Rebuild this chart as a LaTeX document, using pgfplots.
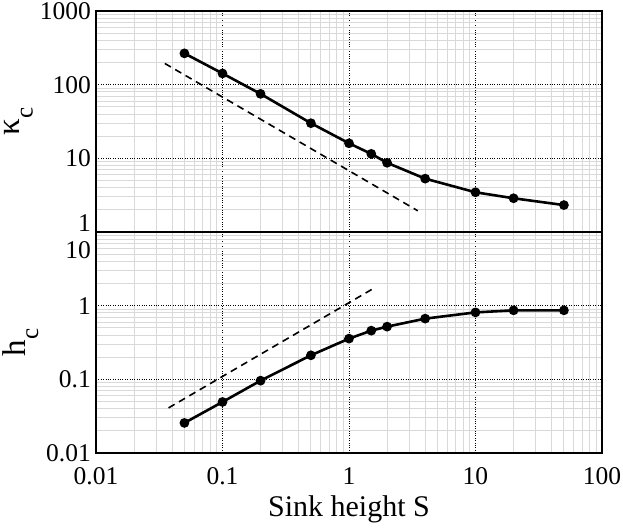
\documentclass[border=0pt]{standalone}
\usepackage{fontspec}
\setmainfont{Liberation Serif}
\usepackage{pgfplots}
\pgfplotsset{compat=1.18}
\begin{document}
\begin{tikzpicture}
\useasboundingbox (-96pt,-74pt) rectangle (527pt,453pt);
\begin{loglogaxis}[at={(0,0)}, anchor=south west,
  scale only axis, width=506pt, height=221pt,
  xmin=0.01, xmax=100,
  xtick={0.01,0.1,1,10,100},
  minor xtick={0.02,0.03,0.04,0.05,0.06,0.07,0.08,0.09,0.2,0.3,0.4,0.5,0.6,0.7,0.8,0.9,2,3,4,5,6,7,8,9,20,30,40,50,60,70,80,90},
  grid=both,
  major grid style={black, line width=0.8pt, dash pattern=on 0.8pt off 1.6pt},
  minor grid style={black!15, line width=0.9pt},
  major tick length=0pt, minor tick length=0pt,
  axis line style={line width=1.2pt},
  tick label style={font=\fontsize{25.5}{25.5}\selectfont},
  yticklabel style={inner sep=0pt, xshift=-5pt},
  ylabel style={font=\fontsize{33}{33}\selectfont, at={(axis description cs:-0.140,0.5)}, anchor=base},
  ymin=0.01, ymax=10,
  ytick={0.01,0.1,1,10},
  yticklabels={\mbox{0.01},\mbox{0.1},\mbox{1},{\raisebox{-18pt}[\height][\depth]{\mbox{10}}}},
  minor ytick={0.02,0.03,0.04,0.05,0.06,0.07,0.08,0.09,0.2,0.3,0.4,0.5,0.6,0.7,0.8,0.9,2,3,4,5,6,7,8,9},
  xticklabels={\mbox{0.01},\mbox{0.1},\mbox{1},\mbox{10},\mbox{100}},
  xticklabel style={inner sep=0pt, yshift=-14pt},
  ylabel={h\raisebox{-13pt}{\fontsize{25}{25}\selectfont c}},
  xlabel={Sink height S},
  xlabel style={font=\fontsize{30}{30}\selectfont, at={(axis description cs:0.5,-0.288)}, anchor=base},
]
\addplot[black, line width=1.6pt, dash pattern=on 7pt off 5pt] coordinates {(0.0375,0.041)(1.54,1.69)};
\addplot[black, line width=2.6pt, mark=*, mark size=3.5pt] coordinates {(0.05,0.0256)(0.1,0.0493)(0.2,0.096)(0.5,0.212)(1,0.357)(1.5,0.458)(2,0.519)(4,0.667)(10,0.81)(20,0.865)(50,0.865)};
\end{loglogaxis}
\begin{loglogaxis}[at={(0,221pt)}, anchor=south west,
  scale only axis, width=506pt, height=221pt,
  xmin=0.01, xmax=100,
  xtick={0.01,0.1,1,10,100},
  minor xtick={0.02,0.03,0.04,0.05,0.06,0.07,0.08,0.09,0.2,0.3,0.4,0.5,0.6,0.7,0.8,0.9,2,3,4,5,6,7,8,9,20,30,40,50,60,70,80,90},
  grid=both,
  major grid style={black, line width=0.8pt, dash pattern=on 0.8pt off 1.6pt},
  minor grid style={black!15, line width=0.9pt},
  major tick length=0pt, minor tick length=0pt,
  axis line style={line width=1.2pt},
  tick label style={font=\fontsize{25.5}{25.5}\selectfont},
  yticklabel style={inner sep=0pt, xshift=-5pt},
  ylabel style={font=\fontsize{33}{33}\selectfont, at={(axis description cs:-0.151,0.5)}, anchor=base},
  ymin=1, ymax=1000,
  ytick={1,10,100,1000},
  yticklabels={{\raisebox{9pt}[\height][\depth]{\mbox{1}}},\mbox{10},\mbox{100},\mbox{1000}},
  minor ytick={2,3,4,5,6,7,8,9,20,30,40,50,60,70,80,90,200,300,400,500,600,700,800,900},
  xticklabels={},
  ylabel={κ\raisebox{-13pt}{\fontsize{25}{25}\selectfont c}},
]
\addplot[black, line width=1.6pt, dash pattern=on 7pt off 5pt] coordinates {(0.035,194)(3.5,1.94)};
\addplot[black, line width=2.6pt, mark=*, mark size=3.5pt] coordinates {(0.05,266)(0.1,142)(0.2,75)(0.5,30)(1,16)(1.5,11.5)(2,8.7)(4,5.3)(10,3.46)(20,2.87)(50,2.32)};
\end{loglogaxis}
\end{tikzpicture}
\end{document}
